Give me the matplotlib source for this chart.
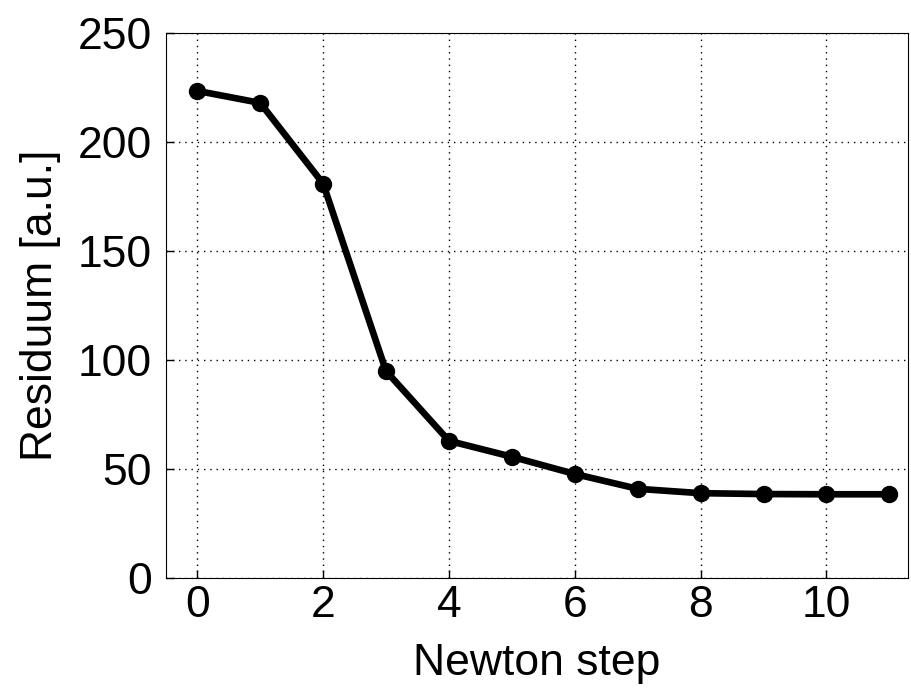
import numpy as np
import matplotlib
matplotlib.use('Agg')
import matplotlib.pyplot as plt

plt.rcParams['font.family'] = ['Liberation Sans', 'DejaVu Sans']

steps = [0, 1, 2, 3, 4, 5, 6, 7, 8, 9, 10, 11]
residuum = [223.5, 218, 181, 95, 63, 55.7, 47.8, 41, 39, 38.6, 38.5, 38.5]

fig = plt.figure(figsize=(9.11, 6.9), dpi=100)
ax = fig.add_axes([0.182, 0.162, 0.815, 0.79])

ax.plot(steps, residuum, color='black', lw=4.8, marker='o', ms=11.5, zorder=3)

ax.set_xlim(-0.5, 11.3)
ax.set_ylim(0, 250)
ax.set_xticks([0, 2, 4, 6, 8, 10])
ax.set_yticks([0, 50, 100, 150, 200, 250])
ax.grid(True, color='black', linestyle=(0, (1, 3.5)), linewidth=1)
ax.tick_params(direction='in', length=6, width=1, labelsize=32)
ax.tick_params(axis='x', pad=5)
ax.tick_params(axis='y', pad=10)
ax.set_xlabel('Newton step', fontsize=32, labelpad=12)
ax.set_ylabel('Residuum [a.u.]', fontsize=32, labelpad=12)

fig.savefig('out.png', dpi=100)
